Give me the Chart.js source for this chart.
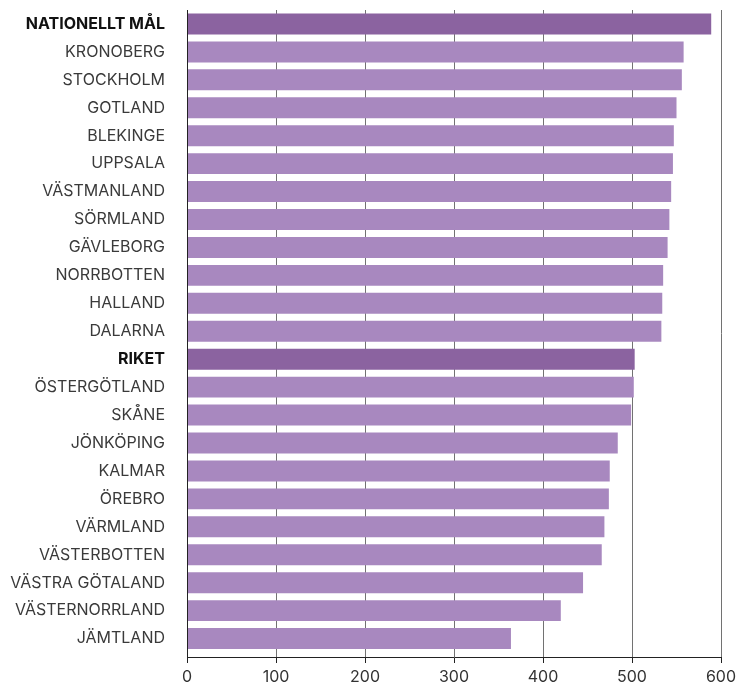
<!DOCTYPE html>
<html>
<head>
<meta charset="utf-8">
<script src="https://cdn.jsdelivr.net/npm/chart.js@4/dist/chart.umd.min.js"></script>
<style>
    html, body { margin: 0; padding: 0; background: #fff; }
    #wrap { width: 736px; height: 687px; position: relative; }
</style>
</head>
<body>
<div id="wrap"><canvas id="chart"></canvas></div>
<script>
const labels = [
    'NATIONELLT MÅL', 'KRONOBERG', 'STOCKHOLM', 'GOTLAND', 'BLEKINGE', 'UPPSALA',
    'VÄSTMANLAND', 'SÖRMLAND', 'GÄVLEBORG', 'NORRBOTTEN', 'HALLAND', 'DALARNA',
    'RIKET', 'ÖSTERGÖTLAND', 'SKÅNE', 'JÖNKÖPING', 'KALMAR', 'ÖREBRO',
    'VÄRMLAND', 'VÄSTERBOTTEN', 'VÄSTRA GÖTALAND', 'VÄSTERNORRLAND', 'JÄMTLAND'
];

const values = [
    589, 558, 556, 550, 547, 546,
    544, 542, 540, 535, 534, 533,
    503, 502, 499, 484, 475, 474,
    469, 466, 445, 420, 364
];

// rows shown in bold with the darker bar
const highlighted = ['NATIONELLT MÅL', 'RIKET'];

const xTicks = [0, 100, 200, 300, 400, 500, 600];

const lightPurple = '#a888bf';
const darkPurple = '#8b63a0';

const isBold = i => highlighted.includes(labels[i]);

// row index on a linear axis, so the space under the last bar can be a bit larger
const rows = labels.map((l, i) => ({ x: values[i], y: i }));

new Chart(document.getElementById('chart').getContext('2d'), {
    type: 'bar',
    data: {
        datasets: [{
            data: rows,
            backgroundColor: labels.map((l, i) => isBold(i) ? darkPurple : lightPurple),
            borderWidth: 0,
            categoryPercentage: 1,
            barPercentage: 0.75
        }]
    },
    options: {
        indexAxis: 'y',
        responsive: true,
        maintainAspectRatio: false,
        animation: false,
        layout: { padding: { top: 10, right: 15, left: 0, bottom: 0 } },
        plugins: {
            legend: { display: false },
            tooltip: { enabled: false }
        },
        scales: {
            x: {
                type: 'linear',
                min: xTicks[0],
                max: xTicks[xTicks.length - 1],
                afterBuildTicks: scale => {
                    scale.ticks = xTicks.map(v => ({ value: v }));
                },
                afterFit: scale => {
                    scale.height = 30;
                    scale.paddingLeft = 0;
                    scale.paddingRight = 0;
                },
                grid: {
                    color: '#727272',
                    lineWidth: 1,
                    drawTicks: true,
                    tickLength: 6,
                    tickColor: '#222'
                },
                border: { display: true, color: '#222', width: 1 },
                ticks: {
                    padding: 5,
                    color: '#333',
                    font: { family: 'Inter', size: 16, weight: 400 }
                }
            },
            y: {
                type: 'linear',
                reverse: true,
                offset: false,
                min: -0.5,
                max: labels.length - 0.34,
                afterBuildTicks: scale => {
                    scale.ticks = labels.map((l, i) => ({ value: i }));
                },
                afterFit: scale => {
                    scale.width = 187;
                    scale.paddingTop = 0;
                    scale.paddingBottom = 0;
                },
                grid: { display: false, drawTicks: false, offset: false },
                border: { display: true, color: '#222', width: 1, z: 1 },
                ticks: {
                    padding: 22,
                    autoSkip: false,
                    callback: v => labels[v],
                    color: ctx => isBold(ctx.index) ? '#111' : '#3a3a3a',
                    font: ctx => ({
                        family: 'Inter',
                        size: 16,
                        weight: isBold(ctx.index) ? 700 : 400
                    })
                }
            }
        }
    }
});
</script>
</body>
</html>
